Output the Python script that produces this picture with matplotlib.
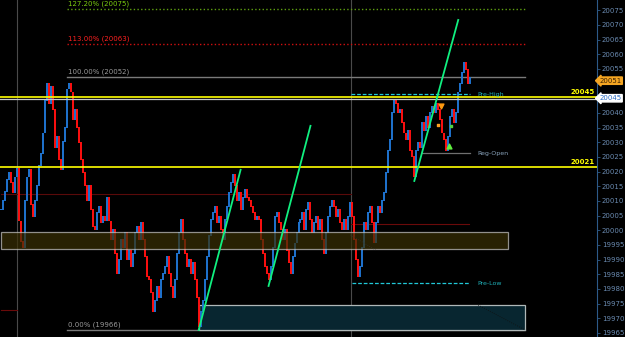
import matplotlib
matplotlib.use('Agg')
import matplotlib.pyplot as plt
from matplotlib.patches import Rectangle
import numpy as np

# closing prices, one per bar
closes = [
    20007, 20010, 20013, 20017, 20019.5, 20016, 20012.7, 20018, 20021, 20003,
    19996, 19994, 20010, 20018, 20020.5, 20008.6, 20004.5, 20010, 20015, 20022,
    20026, 20033, 20044, 20050, 20043, 20049, 20041, 20028, 20032, 20024,
    20020.6, 20030, 20035, 20048, 20050, 20047, 20037.6, 20041, 20035, 20029.8,
    20024, 20019.5, 20015, 20010, 20015, 20007, 20001, 20000, 20006, 20008,
    20002.5, 20004.5, 20003, 20011, 20003, 19996.7, 20000, 19992, 19985, 19990,
    19996.7, 19994, 19999, 19990, 19993,
    19987.5, 19992, 19999, 20001, 19996.7, 20002.5, 19996.7, 19991, 19984, 19983,
    19978.6, 19972, 19976, 19980.7, 19977, 19983, 19985, 19987.5, 19991, 19985,
    19980.7, 19977, 19983, 19992, 19999, 20003.5, 19996.7, 19992, 19987.5, 19990,
    19985, 19989, 19983, 19977, 19967, 19972, 19976, 19983, 19991, 19998,
    20003.5, 20006, 20008, 20002.5, 20004.5, 20000, 19996.7, 20003.5, 20008, 20012.7,
    20016, 20019, 20015, 20010, 20012.7, 20007, 20011, 20013.7, 20011, 20010,
    20008, 20006, 20003.5, 20004.5,
    20003.5, 19996.7, 19992, 19987.5, 19985, 19983, 19987.5, 19994, 20004.5, 20006,
    20002.5, 20000, 19996.7, 20000, 19993, 19989, 19985, 19991, 19995.5, 19999,
    20002.5, 20003.5, 20006, 20000, 20007, 20009.3, 20003.5, 19999, 20002.5, 20004.5,
    20000, 20003.5, 19996.7, 19992, 19999, 20004.5, 20008, 20010, 20008, 20004.5,
    20007, 20002.5, 20000, 20003.5, 20000, 20004.5, 20009.3, 20004.5, 19996.7, 19990,
    19984, 19987.5, 19994, 20002.5, 20000, 20006, 20008, 20002.5, 19995.5, 20002.5,
    20008, 20006, 20010, 20012.7, 20019.5, 20027,
    20030.8, 20040, 20044.4, 20043, 20040, 20041, 20036.6, 20033, 20030.8, 20034,
    20027, 20025, 20018, 20027, 20029.8, 20028, 20036.6, 20034, 20038.6, 20035,
    20040, 20042, 20040, 20043, 20041, 20037.6, 20033, 20030.8, 20027, 20031.8,
    20038.6, 20041, 20036.6, 20040, 20047, 20050, 20053.6, 20057, 20054.7, 20050,
    20052,
]

# fibonacci levels
fib_labels = ['127.20% (20075)', '113.00% (20063)', '100.00% (20052)', '0.00% (19966)']
fib_prices = [20075.5, 20063.5, 20052.3, 19966]
fib_colors = ['#5f9f10', '#d01010', '#7a7a7a', '#7a7a7a']
fib_text_colors = ['#7ccc10', '#ff2020', '#9a9a9a', '#9a9a9a']
fib_styles = [':', ':', '-', '-']

# support / resistance
yellow_levels = [20045.5, 20021.7]
bid_price = 20045
last_price = 20051
pre_high, reg_open, pre_low = 20046.3, 20026.2, 19982
red_lvl_left, red_lvl_right, red_lvl_small = 20012.3, 20002.2, 19972.8
zone_lo, zone_hi = 19993.6, 19999.4
box_lo, box_hi = 19966, 19974.5

# trend lines (bar index, price)
trend_lines = [((99, 19966), (120, 20020.6)),
               ((134, 19981), (155, 20035.6)),
               ((207, 20016.8), (229, 20071.7))]

ticks = list(range(19965, 20080, 5))
hidden_ticks = [20045, 20050]  # covered by the price tags

fig = plt.figure(figsize=(6.25, 3.37), dpi=100)
fig.patch.set_facecolor('black')
ax = fig.add_axes([0, 0, 597 / 625, 1])
ax.set_facecolor('black')
ax.set_xlim(-0.5, 298.5)
ax.set_ylim(19963.6, 20078.5)

# vertical separators
for xv in [8, 175.5]:
    ax.axvline(xv, color='#4a4a4a', lw=0.8, zorder=1)

# fib lines
for lab, p, c, tc, ls in zip(fib_labels, fib_prices, fib_colors, fib_text_colors, fib_styles):
    ax.plot([33, 262.5], [p, p], color=c, lw=1.0, ls=ls, zorder=1)
    ax.text(33.5, p + 0.6, lab, color=tc, fontsize=5, va='bottom', ha='left', zorder=6)

# dark red levels
ax.plot([0, 175.5], [red_lvl_left] * 2, color='#5a0a0a', lw=0.8, zorder=1)
ax.plot([175.5, 234.5], [red_lvl_right] * 2, color='#6a0a0a', lw=0.8, zorder=1)
ax.plot([0, 8], [red_lvl_small] * 2, color='#6a0a0a', lw=0.8, zorder=1)

# cyan box under the bars
ax.add_patch(Rectangle((99, box_lo), 163.5, box_hi - box_lo, facecolor='#082630',
                       edgecolor='#b0b8b8', lw=0.9, zorder=1))

# bars
opens = [closes[0]] + closes[:-1]
x = np.arange(len(closes))
for i in x:
    col = '#1f74d0' if closes[i] >= opens[i] else '#ff1010'
    ax.vlines(i, min(opens[i], closes[i]), max(opens[i], closes[i]) + 0.3,
              color=col, lw=1.4, zorder=2)

# olive zone over the bars
ax.add_patch(Rectangle((0, zone_lo), 254, zone_hi - zone_lo, facecolor='#3a3005',
                       edgecolor='#c8c8c8', lw=0.9, alpha=0.7, zorder=3))

# faint diagonals
ax.plot([175, 187.5], [19998.4, 19993.3], color='#303030', lw=0.6, ls=':', zorder=3)
ax.plot([239, 262.5], [19974.5, 19966], color='#101010', lw=0.6, ls=':', zorder=3)

# pre-high / reg-open / pre-low
ax.plot([175.5, 235], [pre_high] * 2, color='#20c8d8', lw=0.9, ls='--', dashes=(3, 1.5), zorder=4)
ax.plot([211, 235], [reg_open] * 2, color='#707070', lw=0.9, zorder=4)
ax.plot([176, 235], [pre_low] * 2, color='#20c8d8', lw=0.9, ls='--', dashes=(3, 1.5), zorder=4)
ax.text(238.5, pre_high, 'Pre-High', color='#20b0b8', fontsize=4.5, va='center', zorder=6)
ax.text(238.5, reg_open, 'Reg-Open', color='#8aa4bc', fontsize=4.5, va='center', zorder=6)
ax.text(238.5, pre_low, 'Pre-Low', color='#20b0b8', fontsize=4.5, va='center', zorder=6)

# yellow levels and bid line
for lv in yellow_levels:
    ax.axhline(lv, color='#ffff00', lw=1.2, zorder=5)
    ax.text(297.5, lv + 0.5, str(int(lv)), color='#ffff00', fontsize=5, fontweight='bold',
            ha='right', va='bottom', zorder=6)
ax.axhline(bid_price - 0.1, color='#c8c8c8', lw=0.9, zorder=4)

# trend lines
for (x0, y0), (x1, y1) in trend_lines:
    ax.plot([x0, x1], [y0, y1], color='#10f080', lw=1.3, zorder=5)

# trade markers
ax.scatter([220.5], [20042.5], marker='v', s=12, color='#ff9a10', zorder=6)
ax.scatter([224.5], [20028.8], marker='^', s=12, color='#60f040', zorder=6)
ax.scatter([219], [20035.9], marker='s', s=3, color='#ffa020', zorder=6)
ax.scatter([225.5], [20035.6], marker='s', s=3, color='#50d040', zorder=6)

# right axis
for s in ['left', 'top', 'bottom']:
    ax.spines[s].set_visible(False)
ax.spines['right'].set_color('#2d5a88')
ax.spines['right'].set_linewidth(0.8)
ax.set_xticks([])
ax.yaxis.tick_right()
ax.set_yticks(ticks)
ax.set_yticklabels(['' if t in hidden_ticks else str(t) for t in ticks])
ax.tick_params(axis='y', colors='#2d5a88', labelcolor='#6a8ab0', labelsize=5,
               length=2.5, width=0.6, pad=1)

# price tags on the axis
ax.text(1.004, last_price, str(last_price), transform=ax.get_yaxis_transform(),
        color='#3a2000', fontsize=5, va='center', ha='left', zorder=7, clip_on=False,
        bbox=dict(boxstyle='larrow,pad=0.1', facecolor='#f5a623', edgecolor='#f5a623'))
ax.text(1.004, bid_price, str(bid_price), transform=ax.get_yaxis_transform(),
        color='#2a6ac0', fontsize=5, va='center', ha='left', zorder=7, clip_on=False,
        bbox=dict(boxstyle='larrow,pad=0.1', facecolor='white', edgecolor='white'))

fig.savefig('out.png', dpi=100, facecolor='black')
